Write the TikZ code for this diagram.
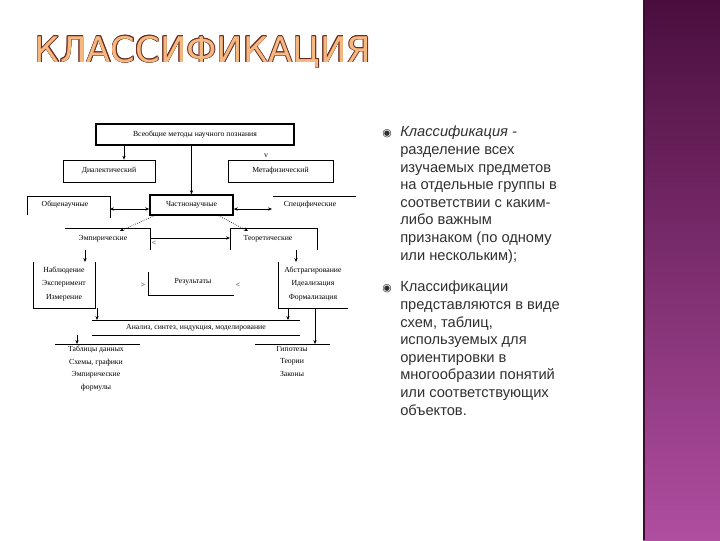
\documentclass[tikz,border=0pt]{standalone}
\usepackage{fontspec}
\setmainfont{Liberation Serif}
\newfontfamily\rtxt{Liberation Sans}
\newfontfamily\ttl{DejaVu Sans}
\newfontfamily\bul{DejaVu Sans}
\definecolor{barA}{HTML}{4A0E3E}
\definecolor{barB}{HTML}{B04EA0}
\definecolor{ttlfill}{HTML}{F4B880}
\definecolor{ttlline}{HTML}{6A2A20}
\definecolor{txt}{HTML}{303030}
\usetikzlibrary{arrows.meta}
\begin{document}
\begin{tikzpicture}[x=0.75pt,y=-0.75pt,
  lbl/.style={font=\fontsize{5.8}{6.8}\selectfont, inner sep=0pt, align=center},
  bx/.style={draw, line width=0.5pt},
  tbx/.style={draw, line width=1.2pt},
  ar/.style={-{Stealth[length=3pt,width=2.5pt]}, line width=0.5pt},
  dar/.style={{Stealth[length=3pt,width=2.5pt]}-{Stealth[length=3pt,width=2.5pt]}, line width=0.5pt},
  ln/.style={line width=0.5pt},
  rt/.style={font=\rtxt\fontsize{11}{13.2}\selectfont, color=txt, anchor=north west, align=left, inner sep=0pt}]
\useasboundingbox (0,0) rectangle (720,540);
\fill[white] (0,0) rectangle (720,540);
\shade[top color=barA, bottom color=barB] (643,0) rectangle (720,540);
\fill[barA!80!black] (643,0) rectangle (645,540);
% title
\foreach \dx/\dy in {-0.6/0,0.6/0,0/-0.6,0/0.6,-0.45/-0.45,0.45/0.45,-0.45/0.45,0.45/-0.45}
  \node[font=\ttl\fontsize{26.5}{28}\selectfont, text=ttlline, inner sep=0pt] at (203+\dx,52+\dy) {КЛАССИФИКАЦИЯ};
\node[font=\ttl\fontsize{26.5}{28}\selectfont, text=ttlfill, inner sep=0pt] (title) at (203,52) {КЛАССИФИКАЦИЯ};
% diagram
\node[tbx, minimum width=148.5pt, minimum height=15.75pt, lbl] (top) at (195,134.5) {Всеобщие методы научного познания};
\node[bx, minimum width=69pt, minimum height=16.5pt, lbl] (dial) at (109,171) {Диалектический};
\node[bx, minimum width=78.75pt, minimum height=16.5pt, lbl] (meta) at (280.5,171) {Метафизический};
\node[tbx, minimum width=62.25pt, minimum height=15pt, lbl] (chast) at (191.5,205) {Частнонаучные};
\node[lbl] (obsh) at (65,205) {Общенаучные};
\node[lbl] (spec) at (310,205) {Специфические};
\node[lbl] (emp) at (103,239) {Эмпирические};
\node[lbl] (teor) at (268,239) {Теоретические};
\node[lbl] (nab) at (64,284) {Наблюдение\\[3pt]Эксперимент\\[3pt]Измерение};
\node[lbl] (res) at (193,282) {Результаты};
\node[lbl] (abs) at (313,284) {Абстрагирование\\[3pt]Идеализация\\[3pt]Формализация};
\node[lbl] (anal) at (196,327.5) {Анализ, синтез, индукция, моделирование};
\node[lbl, anchor=north] (tab) at (96,346) {Таблицы данных\\[2.5pt]Схемы, графики\\[2.5pt]Эмпирические\\[2.5pt]формулы};
\node[lbl, anchor=north] (gip) at (292,346) {Гипотезы\\[2.5pt]Теории\\[2.5pt]Законы};
% box fragments
\draw[ln] (27,215) |- (110,196) -- (110,218);
\draw[ln] (273,196) -- (356,196);
\draw[ln] (65,228) -- (150,228) -- (150,250);
\draw[ln] (230,250) -- (230,228) -- (317,228) -- (317,250);
\draw[ln] (33,262) -- (33,308) -- (95,308) -- (95,262);
\draw[ln] (148,272) -- (148,295) -- (234,295);
\draw[ln] (278,262) -- (278,308) -- (348,308);
\draw[ln] (92,320) -- (300,320);
\draw[ln] (92,335) -- (300,335);
\draw[ln] (55,344) -- (140,344);
\draw[ln] (255,344) -- (330,344);
% connectors
\draw[ar] (top.south -| dial) ++(15,0) coordinate (c1) -- (c1 |- dial.north);
\draw[ar] (top.south -| chast) -- (chast.north);
\draw[dar] (110,209) -- (chast.west |- 0,209);
\draw[dar] (chast.east |- 0,209) -- (272,209);
\draw[ar, densely dotted] (chast.south west) ++(5,0) -- (120,231);
\draw[ar, densely dotted] (chast.south east) ++(-15,0) -- (248,231);
\draw[ar] (150,238) -- (230,238);
\node[lbl] (lt1) at (154,243) {<};
\draw[ar] (85,250) -- (85,262);
\draw[ar] (296,250) -- (296,262);
\node[lbl] (gt1) at (143,285) {>};
\node[lbl] (lt2) at (238,285) {<};
\node[lbl] (v1) at (266,156) {v};
\draw[ar] (97,308) -- (97,320);
\draw[ar] (288,308) -- (288,320);
\draw[ar] (77,335) -- (77,344);
\draw[ar] (315,308) -- (315,344);
% right text
\node[font=\bul\fontsize{8}{8}\selectfont, color=txt] (b1) at (387,134) {◉};
\node[font=\bul\fontsize{8}{8}\selectfont, color=txt] (b2) at (387,289) {◉};
\node[rt] (t1) at (400,126) {\itshape Классификация -\\разделение всех\\изучаемых предметов\\на отдельные группы в\\соответствии с каким-\\либо важным\\признаком (по одному\\или нескольким);};
\node[rt] (t2) at (400,281) {Классификации\\представляются в виде\\схем, таблиц,\\используемых для\\ориентировки в\\многообразии понятий\\или соответствующих\\объектов.};
\end{tikzpicture}
\end{document}
